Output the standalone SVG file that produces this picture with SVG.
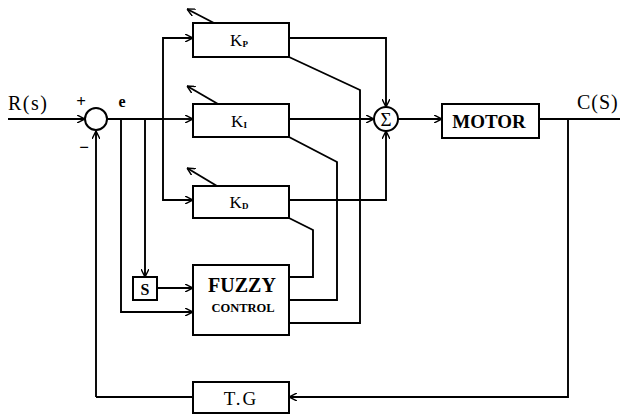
<svg xmlns="http://www.w3.org/2000/svg" width="620" height="415" viewBox="0 0 620 415">
<defs>
<marker id="arr" viewBox="0 0 10 10" refX="10" refY="5" markerWidth="8" markerHeight="8" markerUnits="userSpaceOnUse" orient="auto">
<path d="M0,0 L10,5 L0,10" fill="none" stroke="#000" stroke-width="1.8"/>
</marker>
</defs>
<style>
.ln{fill:none;stroke:#000;stroke-width:1.9}
.bx{fill:#fff;stroke:#000;stroke-width:2}
.t{font-family:"Liberation Serif",serif;fill:#000}
.a{marker-end:url(#arr)}
</style>
<rect width="620" height="415" fill="#fff"/>
<g id="connectors">
<path class="ln a" d="M8,119 H85"/>
<path class="ln" d="M107,119 H163"/>
<path class="ln a" d="M163,119 H193"/>
<path class="ln a" d="M163,119 V38 H193"/>
<path class="ln a" d="M163,119 V200 H193"/>
<path class="ln a" d="M145,119 V277"/>
<path class="ln a" d="M121,119 V312 H193"/>
<path class="ln a" d="M157,288 H193"/>
<path class="ln a" d="M96,397 V131"/>
<path class="ln" d="M193,397 H96"/>
<path class="ln a" d="M289,38 H386 V107"/>
<path class="ln a" d="M289,119 H374"/>
<path class="ln a" d="M289,200 H386 V131"/>
<path class="ln a" d="M398,119 H442"/>
<path class="ln" d="M539,119 H620"/>
<path class="ln a" d="M568,119 V397 H289"/>
<path class="ln" d="M289,57 L360,90 V323 H289"/>
<path class="ln" d="M289,137 L337,162 V300 H289"/>
<path class="ln" d="M289,218 L313,230 V277 H289"/>
<path class="ln a" d="M214,23 L187,9"/>
<path class="ln a" d="M218,104 L187,86"/>
<path class="ln a" d="M217,186 L187,168"/>
</g>
<g id="sum1">
<circle cx="96" cy="119" r="11" class="bx"/>
<text class="t" x="81" y="107" font-size="17" text-anchor="middle" font-weight="bold">+</text>
<text class="t" x="84" y="153" font-size="17" text-anchor="middle" font-weight="bold">−</text>
</g>
<g id="labels">
<text class="t" x="8" y="110" font-size="20" letter-spacing="1.5">R(s)</text>
<text class="t" x="122" y="107" font-size="16" text-anchor="middle" font-weight="bold">e</text>
<text class="t" x="577" y="109" font-size="20" letter-spacing="1">C(S)</text>
</g>
<g id="kp">
<rect x="193" y="23" width="96" height="34" class="bx"/>
<text class="t" x="239" y="46" font-size="17" text-anchor="middle">K<tspan font-size="9" font-weight="bold" dy="1">P</tspan></text>
</g>
<g id="ki">
<rect x="193" y="104" width="96" height="33" class="bx"/>
<text class="t" x="239" y="127" font-size="17" text-anchor="middle">K<tspan font-size="9" font-weight="bold" dy="1">I</tspan></text>
</g>
<g id="kd">
<rect x="193" y="186" width="96" height="32" class="bx"/>
<text class="t" x="239" y="208" font-size="17" text-anchor="middle">K<tspan font-size="9" font-weight="bold" dy="1">D</tspan></text>
</g>
<g id="sigma">
<circle cx="386" cy="119" r="12" class="bx"/>
<text class="t" x="386" y="126" font-size="19" text-anchor="middle">Σ</text>
</g>
<g id="motor">
<rect x="442" y="104" width="97" height="34" class="bx"/>
<text class="t" x="489" y="128" font-size="19" text-anchor="middle" font-weight="bold">MOTOR</text>
</g>
<g id="s">
<rect x="133" y="277" width="24" height="23" class="bx"/>
<text class="t" x="145" y="295" font-size="16" text-anchor="middle" font-weight="bold">S</text>
</g>
<g id="fuzzy">
<rect x="193" y="265" width="96" height="70" class="bx"/>
<text class="t" x="242" y="292" font-size="20" text-anchor="middle" font-weight="bold">FUZZY</text>
<text class="t" x="243" y="312" font-size="12.5" text-anchor="middle" font-weight="bold">CONTROL</text>
</g>
<g id="tg">
<rect x="193" y="382" width="96" height="31" class="bx"/>
<text class="t" x="241" y="405" font-size="19" text-anchor="middle" letter-spacing="2">T.G</text>
</g>
</svg>
